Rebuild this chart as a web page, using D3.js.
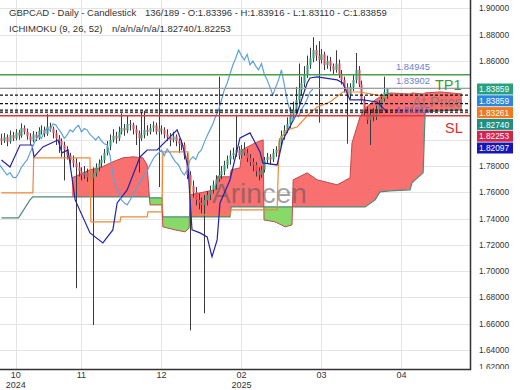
<!DOCTYPE html>
<html>
<head>
<meta charset="utf-8">
<script src="https://cdn.jsdelivr.net/npm/d3@7"></script>
<style>
body{margin:0;background:#fff}
svg{display:block;font-family:"Liberation Sans",Arial,sans-serif}
</style>
</head>
<body>
<svg width="520" height="390"></svg>
<script>
// daily candles, 136 visible bars
var opens = [1.8010,1.7990,1.8020,1.7985,1.8035,1.8010,1.8055,1.8030,1.8090,1.8060,1.8025,1.7995,1.8040,1.8015,1.8070,1.8075,1.8045,1.8100,1.8085,1.8050,
1.8010,1.7990,1.7960,1.7925,1.7880,1.7846,1.7820,1.7790,1.7760,1.7732,1.7750,1.7715,1.7710,1.7745,1.7790,1.7820,1.7846,1.7900,1.7950,1.7998,
1.8030,1.8010,1.8060,1.8090,1.8070,1.8120,1.8113,1.8080,1.8050,1.8010,1.8037,1.8075,1.8060,1.8090,1.8110,1.8060,1.8085,1.8075,1.8040,1.8020,
1.7998,1.8025,1.7990,1.7970,1.7960,1.7880,1.7732,1.7650,1.7600,1.7542,1.7520,1.7504,1.7540,1.7580,1.7618,1.7660,1.7700,1.7732,1.7760,1.7808,
1.7850,1.7880,1.7900,1.7922,1.7880,1.7930,1.7900,1.7860,1.7830,1.7808,1.7760,1.7732,1.7770,1.7846,1.7870,1.7850,1.7900,1.7922,1.7980,1.8030,
1.8075,1.8120,1.8180,1.8227,1.8300,1.8379,1.8430,1.8500,1.8569,1.8620,1.8683,1.8640,1.8607,1.8650,1.8569,1.8600,1.8560,1.8531,1.8580,1.8500,
1.8455,1.8400,1.8341,1.8400,1.8455,1.8531,1.8420,1.8303,1.8220,1.8151,1.8205,1.8175,1.8230,1.8265,1.8310,1.83396];
var highs = [1.8045,1.8050,1.8040,1.8070,1.8060,1.8080,1.8075,1.8125,1.8110,1.8085,1.8050,1.8065,1.8060,1.8095,1.8110,1.8100,1.8195,1.8130,1.8100,1.8075,
1.8035,1.8010,1.7985,1.7950,1.7900,1.7880,1.7860,1.7830,1.7790,1.7800,1.7780,1.7760,1.7790,1.7820,1.7850,1.7880,1.7930,1.7990,1.8040,1.8080,
1.8060,1.8100,1.8200,1.8120,1.8180,1.8150,1.8130,1.8110,1.8070,1.8210,1.8220,1.8110,1.8120,1.8140,1.8130,1.8390,1.8110,1.8095,1.8080,1.8050,
1.8060,1.8040,1.8010,1.8000,1.7980,1.7900,1.7760,1.7690,1.7640,1.7590,1.7560,1.7580,1.7610,1.7650,1.7690,1.7730,1.8480,1.7800,1.7840,1.7880,
1.7920,1.7940,1.8190,1.7950,1.7960,1.7980,1.7930,1.7890,1.7860,1.7830,1.7790,1.7800,1.7870,1.7900,1.7890,1.7930,1.7950,1.8010,1.8070,1.8110,
1.8170,1.8250,1.8290,1.8400,1.8580,1.8480,1.8560,1.8640,1.8700,1.8780,1.8720,1.8750,1.8690,1.8670,1.8640,1.8630,1.8580,1.8680,1.8610,1.8530,
1.8480,1.8430,1.8430,1.8500,1.8660,1.8560,1.8450,1.8330,1.8250,1.8230,1.8240,1.8260,1.8300,1.8350,1.8480,1.83916];
var lows = [1.7960,1.7975,1.7950,1.7970,1.7990,1.7995,1.8000,1.8015,1.8040,1.8000,1.7960,1.7980,1.7990,1.8000,1.8040,1.8020,1.8030,1.8060,1.8010,1.7960,
1.7900,1.7870,1.7690,1.7850,1.7810,1.7790,1.6870,1.7720,1.7690,1.7700,1.7680,1.7680,1.6590,1.7720,1.7760,1.7790,1.7820,1.7880,1.7920,1.7980,
1.7970,1.7990,1.8040,1.8030,1.8050,1.8070,1.8040,1.7960,1.7750,1.7990,1.8010,1.8030,1.8040,1.8060,1.8040,1.7640,1.8040,1.8010,1.7990,1.7950,
1.7980,1.7950,1.7900,1.7920,1.7850,1.7700,1.6550,1.7560,1.7500,1.7470,1.7440,1.6680,1.7500,1.7540,1.7590,1.7620,1.7680,1.7700,1.7730,1.7780,
1.7810,1.7850,1.7870,1.7850,1.7860,1.7880,1.7830,1.7800,1.7760,1.7720,1.7690,1.7710,1.7750,1.7820,1.7810,1.7830,1.7870,1.7900,1.7960,1.8000,
1.8050,1.8090,1.8150,1.8200,1.8270,1.8340,1.8400,1.8470,1.8540,1.8590,1.8600,1.8130,1.8580,1.8530,1.8540,1.8520,1.8500,1.8510,1.8470,1.8420,
1.8360,1.7970,1.8310,1.8370,1.8430,1.8400,1.8270,1.8180,1.8120,1.7960,1.8140,1.8150,1.8200,1.8240,1.8290,1.83110];
var closes = [1.7990,1.8020,1.7985,1.8035,1.8010,1.8055,1.8030,1.8090,1.8060,1.8025,1.7995,1.8040,1.8015,1.8070,1.8075,1.8045,1.8100,1.8085,1.8050,1.8010,
1.7990,1.7960,1.7925,1.7880,1.7846,1.7820,1.7790,1.7760,1.7732,1.7750,1.7715,1.7710,1.7745,1.7790,1.7820,1.7846,1.7900,1.7950,1.7998,1.8030,
1.8010,1.8060,1.8090,1.8070,1.8120,1.8113,1.8080,1.8050,1.8010,1.8037,1.8075,1.8060,1.8090,1.8110,1.8060,1.8085,1.8075,1.8040,1.8020,1.7998,
1.8025,1.7990,1.7970,1.7960,1.7880,1.7732,1.7650,1.7600,1.7542,1.7520,1.7504,1.7540,1.7580,1.7618,1.7660,1.7700,1.7732,1.7760,1.7808,1.7850,
1.7880,1.7900,1.7922,1.7880,1.7930,1.7900,1.7860,1.7830,1.7808,1.7760,1.7732,1.7770,1.7846,1.7870,1.7850,1.7900,1.7922,1.7980,1.8030,1.8075,
1.8120,1.8180,1.8227,1.8300,1.8379,1.8430,1.8500,1.8569,1.8620,1.8683,1.8640,1.8607,1.8650,1.8569,1.8600,1.8560,1.8531,1.8580,1.8500,1.8455,
1.8400,1.8341,1.8400,1.8455,1.8531,1.8420,1.8303,1.8220,1.8151,1.8190,1.8175,1.8230,1.8265,1.8310,1.8363,1.83859];

// ichimoku lines (bar index / value)
var tenkanIdx = [0,3,6.5,10.7,11.4,14.5,19.8,21.2,23.3,25.8,31,35.5,39,40.5,44,48.5,51,54.5,61.5,63.2,65.3,66.7,69.5,72,73.7,75.5,76.5,80,83.5,87,90.5,91.5,96.5,98.5,103.5,107,108,110.5,117.5,119.5,121,122,126.5,131.5,135];
var tenkanVal = [1.7846,1.7793,1.7960,1.7960,1.7869,1.7945,1.7998,1.7900,1.7922,1.7542,1.7291,1.7215,1.7314,1.7519,1.7618,1.7869,1.7922,1.7922,1.8075,1.7976,1.7793,1.7314,1.7291,1.7261,1.7109,1.7238,1.7519,1.7694,1.8014,1.8052,1.7907,1.7824,1.7808,1.7998,1.8204,1.8432,1.8470,1.8478,1.8455,1.8432,1.8356,1.8303,1.8303,1.8287,1.8210];
var kijunIdx = [0,11,11.3,31,31.3,41.5,41.8,51,51.3,56.2,56.5,65.3,66,66.7,80,80.4,96.5,97.2,100,103.5,107.3,110.5,115,119.5,125.5,135];
var kijunVal = [1.7595,1.7595,1.7862,1.7862,1.7375,1.7375,1.7413,1.7413,1.7451,1.7451,1.7907,1.7907,1.7656,1.7428,1.7428,1.7466,1.7466,1.7998,1.8075,1.8097,1.8189,1.8249,1.8287,1.8363,1.8363,1.8326];
var spanAIdx = [0,6,10,11,24.7,31,34.5,39,42.5,46,49.5,51,51.6,52,56.2,56.5,60.8,64.3,65.7,66,74.8,75.5,80,80.4,83.5,84.2,88.8,91.6,91.9,95.8,99.3,101.7,102.1,107,110.5,117.5,122,122.7,125.5,127.3,130.8,132.5,136,143,143.7,147.6,148.3,153.5,161.2];
var spanAVal = [1.7405,1.7405,1.7542,1.7565,1.7565,1.7565,1.7565,1.7565,1.7565,1.7565,1.7565,1.7565,1.7565,1.7558,1.7558,1.7413,1.7413,1.7413,1.7413,1.7413,1.7413,1.7413,1.7413,1.7489,1.7489,1.7489,1.7489,1.7489,1.7489,1.7489,1.7489,1.7489,1.7489,1.7489,1.7489,1.7489,1.7489,1.7489,1.7489,1.7489,1.7542,1.7603,1.7611,1.7619,1.7672,1.7748,1.8212,1.8220,1.8227];
var spanBVal = [null,null,null,null,1.7710,1.7771,1.7786,1.7832,1.7862,1.7870,1.7862,1.7809,1.7619,1.7504,1.7504,1.7337,1.7314,1.7299,1.7329,1.7581,1.7619,1.7718,1.7718,1.7771,1.7786,1.7923,1.7976,1.7999,1.7390,1.7375,1.7337,1.7352,1.7695,1.7748,1.7695,1.7657,1.7710,1.7976,1.8174,1.8242,1.8303,1.8326,1.8356,1.8348,1.8356,1.8348,1.8356,1.8364,1.8348];

var yTicks = [1.62,1.64,1.66,1.68,1.70,1.72,1.74,1.76,1.78,1.80,1.82,1.84,1.86,1.88,1.90];
var xTickIdx = [5,28,56,84,112,140];
var xTickLabels = [["10","2024"],["11"],["12"],["02","2025"],["03"],["04"]];

var tpLevel = 1.84945, entryLevel = 1.83902, slLevel = 1.81815;
var dashedLevels = [1.83396, 1.82740, 1.82253, 1.82097];
var priceTags = [1.83859, 1.83859, 1.83261, 1.82740, 1.82253, 1.82097];
var tagColors = ["#26a17f", "#2b86e0", "#f07a1e", "#1f9080", "#d0264e", "#1515b8"];

var W = 470, H = 369;
var svg = d3.select("svg");
var x = d3.scaleLinear().domain([-0.5, 164]).range([0, W]);
var y = d3.scaleLinear().domain([1.62, 1.90]).range([376.3, 8.3]);

svg.append("defs").append("clipPath").attr("id", "plot")
  .append("rect").attr("x", 0).attr("y", 0).attr("width", W).attr("height", H);

// grid
var grid = svg.append("g").attr("clip-path", "url(#plot)");
grid.selectAll(".hg").data(yTicks).enter().append("line")
  .attr("x1", 0).attr("x2", W).attr("y1", function(d){return Math.round(y(d))+0.5;}).attr("y2", function(d){return Math.round(y(d))+0.5;})
  .attr("stroke", "#e4e4e4");
grid.selectAll(".vg").data(xTickIdx).enter().append("line")
  .attr("y1", 0).attr("y2", H).attr("x1", function(d){return Math.round(x(d))+0.5;}).attr("x2", function(d){return Math.round(x(d))+0.5;})
  .attr("stroke", "#e4e4e4");

// cloud
var cloud = [];
spanAIdx.forEach(function(d, i){ if (spanBVal[i] != null) cloud.push({i: d, a: spanAVal[i], b: spanBVal[i]}); });
var defs = svg.select("defs");
defs.append("clipPath").attr("id", "aboveA").append("path")
  .attr("d", d3.area().x(function(d){return x(d.i);}).y0(0).y1(function(d){return y(d.a);})(cloud));
defs.append("clipPath").attr("id", "belowA").append("path")
  .attr("d", d3.area().x(function(d){return x(d.i);}).y0(H).y1(function(d){return y(d.a);})(cloud));
var band = d3.area().x(function(d){return x(d.i);}).y0(function(d){return y(d.a);}).y1(function(d){return y(d.b);});
var cg = svg.append("g").attr("clip-path", "url(#plot)");
cg.append("path").attr("d", band(cloud)).attr("fill", "#f76060").attr("fill-opacity", 0.9).attr("clip-path", "url(#aboveA)");
cg.append("path").attr("d", band(cloud)).attr("fill", "#7ad65a").attr("fill-opacity", 0.9).attr("clip-path", "url(#belowA)");

var line = d3.line().x(function(d){return x(d[0]);}).y(function(d){return y(d[1]);});
cg.append("path").attr("d", line(d3.zip(spanAIdx, spanAVal))).attr("fill", "none").attr("stroke", "#4f8a78").attr("stroke-width", 1.2);
cg.append("path").attr("d", line(cloud.map(function(d){return [d.i, d.b];}))).attr("fill", "none").attr("stroke", "#c24a4a").attr("stroke-width", 1);

// watermark
svg.append("text").attr("x", 212).attr("y", 203).attr("font-size", 28).attr("fill", "#555").attr("fill-opacity", 0.55).text("Arincen");

// candles
var pg = svg.append("g").attr("clip-path", "url(#plot)");
var idx = d3.range(closes.length);
pg.selectAll(".wick").data(idx).enter().append("line")
  .attr("x1", function(i){return Math.round(x(i))+0.5;}).attr("x2", function(i){return Math.round(x(i))+0.5;})
  .attr("y1", function(i){return y(highs[i]);}).attr("y2", function(i){return y(lows[i]);})
  .attr("stroke", "#3a3a3a").attr("stroke-width", 1);
pg.selectAll(".body").data(idx).enter().append("rect")
  .attr("x", function(i){return Math.round(x(i))-0.5;})
  .attr("width", 2)
  .attr("y", function(i){return y(Math.max(opens[i], closes[i]));})
  .attr("height", function(i){return Math.max(1, Math.abs(y(opens[i]) - y(closes[i])));})
  .attr("fill", function(i){return closes[i] >= opens[i] ? "#2a9f78" : "#e0485c";});

// tenkan, kijun, chikou
pg.append("path").attr("d", line(d3.zip(kijunIdx, kijunVal))).attr("fill", "none").attr("stroke", "#f0883a").attr("stroke-width", 1.2);
pg.append("path").attr("d", line(d3.zip(tenkanIdx, tenkanVal))).attr("fill", "none").attr("stroke", "#2424a8").attr("stroke-width", 1.2);
pg.append("path").attr("d", line(closes.map(function(c, i){return [i - 26, c];}).filter(function(d){return d[0] >= -1;})))
  .attr("fill", "none").attr("stroke", "#5ea2dc").attr("stroke-width", 1.2);

// levels
pg.append("line").attr("x1", 0).attr("x2", W).attr("y1", y(tpLevel)).attr("y2", y(tpLevel)).attr("stroke", "#4c9c4c").attr("stroke-width", 1.5);
pg.append("line").attr("x1", 0).attr("x2", W).attr("y1", y(entryLevel)).attr("y2", y(entryLevel)).attr("stroke", "#9a9a9a").attr("stroke-width", 1);
pg.append("line").attr("x1", 0).attr("x2", W).attr("y1", y(slLevel)).attr("y2", y(slLevel)).attr("stroke", "#e03838").attr("stroke-width", 1.5);
pg.selectAll(".dl").data(dashedLevels).enter().append("line")
  .attr("x1", 0).attr("x2", W).attr("y1", function(d){return y(d);}).attr("y2", function(d){return y(d);})
  .attr("stroke", "#111").attr("stroke-width", 1.2).attr("stroke-dasharray", "3,2");

svg.append("text").attr("x", 396).attr("y", y(tpLevel) - 5).attr("font-size", 9.4).attr("fill", "#6b82cc").text("1.84945");
svg.append("text").attr("x", 396).attr("y", y(entryLevel) - 4).attr("font-size", 9.4).attr("fill", "#6b82cc").text("1.83902");
svg.append("text").attr("x", 396).attr("y", y(slLevel) - 3).attr("font-size", 9.4).attr("fill", "#6a5ed6").text("1.81815");
svg.append("text").attr("x", 412).attr("y", 107).attr("font-size", 14.5).attr("fill", "#777").attr("fill-opacity", 0.7).text("At Price");
svg.append("text").attr("x", 435).attr("y", 90).attr("font-size", 14.5).attr("fill", "#3a9a3a").text("TP1");
svg.append("text").attr("x", 445).attr("y", 133).attr("font-size", 14.5).attr("fill", "#d83030").text("SL");

// axes frame
svg.append("line").attr("x1", W + 0.5).attr("x2", W + 0.5).attr("y1", 0).attr("y2", H + 1).attr("stroke", "#333").attr("stroke-width", 1.5);
svg.append("line").attr("x1", 0).attr("x2", W + 1).attr("y1", H + 0.5).attr("y2", H + 0.5).attr("stroke", "#333").attr("stroke-width", 1.5);

// price tags (stacked so they do not overlap)
var tagY = [];
priceTags.forEach(function(v, k){
  var top = y(v) - 5.5;
  if (k > 0) top = Math.max(top, tagY[k - 1] + 11.8);
  tagY.push(top);
});
var tagTop = tagY[0], tagBottom = tagY[tagY.length - 1] + 11;

// y axis labels, skipping those hidden behind the tags
defs.append("clipPath").attr("id", "yaxis").append("rect").attr("x", W).attr("y", 2).attr("width", 50).attr("height", H - 2);
svg.append("g").attr("clip-path", "url(#yaxis)").selectAll("text")
  .data(yTicks.filter(function(d){ return y(d) + 4 < tagTop || y(d) - 4 > tagBottom; }))
  .enter().append("text")
  .attr("x", 479).attr("y", function(d){return Math.min(y(d), 367) + 3;})
  .attr("font-size", 8.3).attr("fill", "#333").text(function(d){return d.toFixed(5);});

var xt = svg.selectAll(".xt").data(xTickIdx).enter().append("text")
  .attr("text-anchor", "middle").attr("font-size", 9).attr("fill", "#333");
xt.each(function(d, k){
  var t = d3.select(this);
  xTickLabels[k].forEach(function(s, j){
    t.append("tspan").attr("x", x(d)).attr("y", 378 + j * 9.5).text(s);
  });
});

var tg = svg.selectAll(".tag").data(priceTags).enter().append("g");
tg.append("rect").attr("x", 477).attr("y", function(d, k){return tagY[k];}).attr("width", 36).attr("height", 11)
  .attr("fill", function(d, k){return tagColors[k];});
tg.append("text").attr("x", 479).attr("y", function(d, k){return tagY[k] + 8.7;}).attr("font-size", 8.3).attr("fill", "#fff")
  .text(function(d){return d.toFixed(5);});

// header
svg.append("text").attr("x", 9).attr("y", 16).attr("font-size", 9.5).attr("fill", "#333").text("GBPCAD - Daily - Candlestick");
svg.append("text").attr("x", 145).attr("y", 16).attr("font-size", 9.5).attr("fill", "#333").text("136/189 - O:1.83396 - H:1.83916 - L:1.83110 - C:1.83859");
svg.append("text").attr("x", 9).attr("y", 32).attr("font-size", 9.5).attr("fill", "#333").text("ICHIMOKU (9, 26, 52)");
svg.append("text").attr("x", 112).attr("y", 32).attr("font-size", 9.5).attr("fill", "#333").text("n/a/n/a/n/a/1.82740/1.82253");
</script>
</body>
</html>
